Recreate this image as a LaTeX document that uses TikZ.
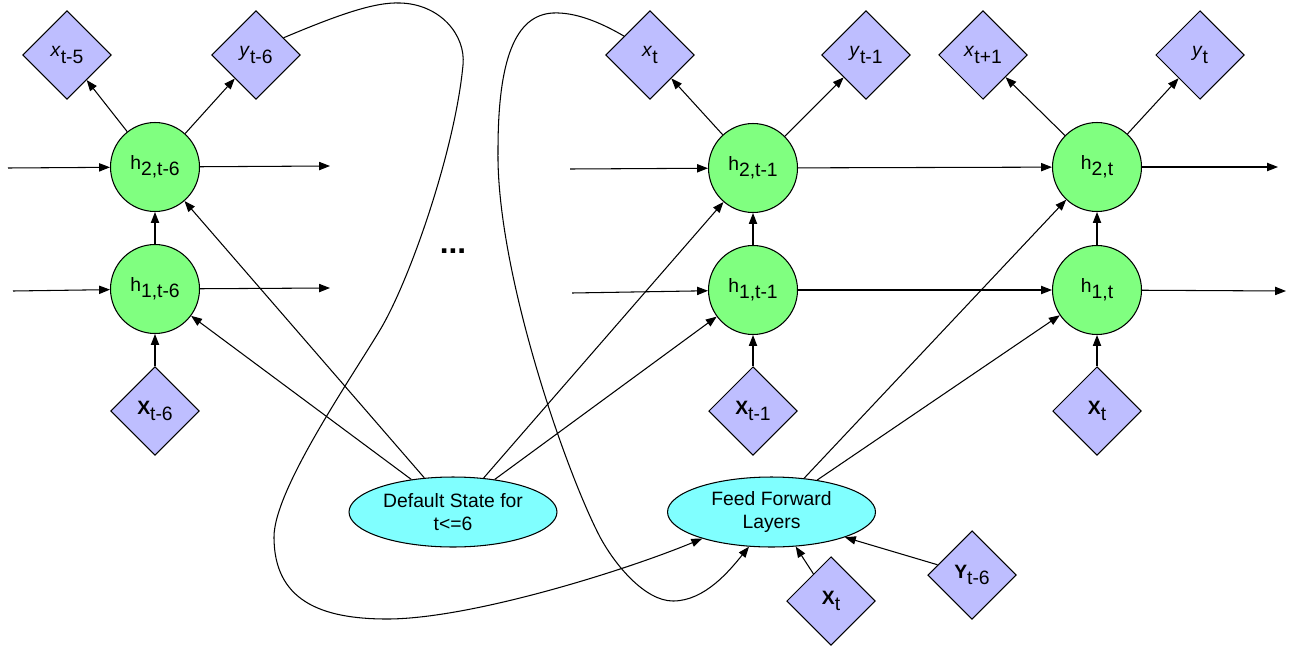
\documentclass[tikz,border=0pt]{standalone}
\usepackage{fontspec}
\setmainfont{Liberation Sans}
\usetikzlibrary{shapes.geometric,arrows.meta}
\definecolor{hidgreen}{RGB}{128,255,128}
\definecolor{obsblue}{RGB}{190,190,255}
\definecolor{ffcyan}{RGB}{128,255,255}
\newcommand\lo[1]{\raisebox{-0.6ex}{#1}}

\begin{document}
\begin{tikzpicture}[x = 0.02cm, y = -0.02cm, line width = 0.6pt,
		font = \fontsize{11}{13}\selectfont,
		hid/.style = {circle, draw, fill = hidgreen, minimum size = 1.78cm, inner sep = 0pt},
		obs/.style = {diamond, draw, fill = obsblue, minimum size = 1.77cm, inner sep = 0pt},
		blob/.style = {ellipse, draw, fill = ffcyan, minimum width = 4.16cm, minimum height = 1.4cm,
			inner sep = 0pt, align = center},
		arr/.style = {-{Triangle[length = 6.2pt, width = 4.7pt]}}]
	\useasboundingbox (0,0) rectangle (1293,652);

	\node [hid] (h2a) at (155,167) {h\lo{2,t-6}};
	\node [hid] (h1a) at (155,289) {h\lo{1,t-6}};
	\node [obs] (ina) at (155,411) {\textbf{X}\lo{t-6}};
	\node [obs] (oxa) at (67,55) {\textit{x}\lo{t-5}};
	\node [obs] (oya) at (256,55) {\textit{y}\lo{t-6}};

	\node [hid] (h2b) at (753,168) {h\lo{2,t-1}};
	\node [hid] (h1b) at (753,290) {h\lo{1,t-1}};
	\node [obs] (inb) at (753,411) {\textbf{X}\lo{t-1}};
	\node [obs] (oxb) at (650,55) {\textit{x}\lo{t}};
	\node [obs] (oyb) at (866,55) {\textit{y}\lo{t-1}};

	\node [hid] (h2c) at (1097,167) {h\lo{2,t}};
	\node [hid] (h1c) at (1097,290) {h\lo{1,t}};
	\node [obs] (inc) at (1097,411) {\textbf{X}\lo{t}};
	\node [obs] (oxc) at (983,55) {\textit{x}\lo{t+1}};
	\node [obs] (oyc) at (1200,55) {\textit{y}\lo{t}};

	\node [blob] (dflt) at (453,512) {Default State for\\t<=6};
	\node [blob] (ffl) at (771.5,512) {Feed Forward\\Layers};
	\node [obs] (ffx) at (831,601) {\textbf{X}\lo{t}};
	\node [obs] (ffy) at (972,575) {\textbf{Y}\lo{t-6}};

	\node (dots) at (453,251) {\fontsize{18}{18}\selectfont\textbf{...}};

	\coordinate (la2) at (8,168);
	\coordinate (la1) at (13,291);
	\coordinate (ra2) at (330,166);
	\coordinate (ra1) at (330,288);
	\coordinate (lb2) at (570,169);
	\coordinate (lb1) at (572,293);
	\coordinate (rc2) at (1278,167);
	\coordinate (rc1) at (1286,291);

	\draw [arr] (la2) -- (h2a);
	\draw [arr] (la1) -- (h1a);
	\draw [arr] (h2a) -- (ra2);
	\draw [arr] (h1a) -- (ra1);
	\draw [arr] (lb2) -- (h2b);
	\draw [arr] (lb1) -- (h1b);
	\draw [arr] (h2b) -- (h2c);
	\draw [arr] (h1b) -- (h1c);
	\draw [arr] (h2c) -- (rc2);
	\draw [arr] (h1c) -- (rc1);

	\draw [arr] (ina) -- (h1a);
	\draw [arr] (h1a) -- (h2a);
	\draw [arr] (h2a) -- (oxa);
	\draw [arr] (h2a) -- (oya);
	\draw [arr] (inb) -- (h1b);
	\draw [arr] (h1b) -- (h2b);
	\draw [arr] (h2b) -- (oxb);
	\draw [arr] (h2b) -- (oyb);
	\draw [arr] (inc) -- (h1c);
	\draw [arr] (h1c) -- (h2c);
	\draw [arr] (h2c) -- (oxc);
	\draw [arr] (h2c) -- (oyc);

	\draw [arr] (dflt.142) -- (h1a);
	\draw [arr] (dflt.130) -- (h2a);
	\draw [arr] (dflt.48) -- (h2b);
	\draw [arr] (dflt.38) -- (h1b);
	\draw [arr] (ffl.46) -- (h2c);
	\draw [arr] (ffl.35) -- (h1c);
	\draw [arr] (ffx) -- (ffl.-55);
	\draw [arr] (ffy) -- (ffl.-19);

	\draw [arr] (oya.32) .. controls (340,14) and (375,2) .. (400,3)
		.. controls (440,4) and (466,35) .. (463,65)
		.. controls (455,150) and (410,280) .. (380,330)
		.. controls (350,380) and (274,490) .. (274,537)
		.. controls (274,600) and (320,619) .. (387,619)
		.. controls (470,619) and (624,571) .. (ffl.201);
	\draw [arr] (oxb.144) .. controls (600,22) and (575,12) .. (553,13)
		.. controls (515,15) and (498,60) .. (498,150)
		.. controls (496,270) and (565,470) .. (600,537)
		.. controls (615,565) and (645,601) .. (673,601)
		.. controls (705,601) and (730,570) .. (ffl.237);
\end{tikzpicture}
\end{document}
